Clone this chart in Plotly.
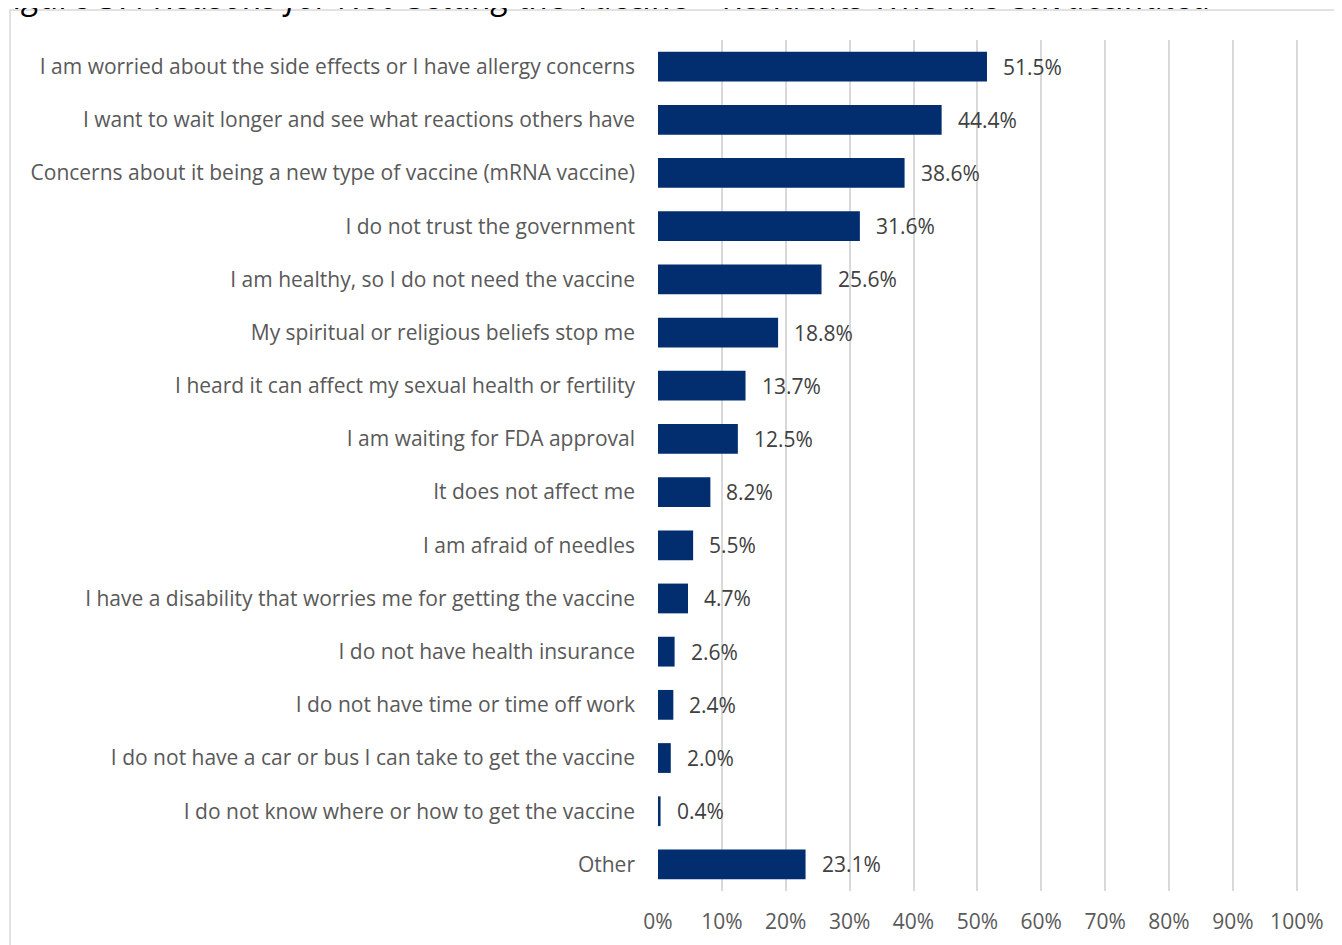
import plotly.graph_objects as go

# --- data ---
reasons = [
    "I am worried about the side effects or I have allergy concerns",
    "I want to wait longer and see what reactions others have",
    "Concerns about it being a new type of vaccine (mRNA vaccine)",
    "I do not trust the government",
    "I am healthy, so I do not need the vaccine",
    "My spiritual or religious beliefs stop me",
    "I heard it can affect my sexual health or fertility",
    "I am waiting for FDA approval",
    "It does not affect me",
    "I am afraid of needles",
    "I have a disability that worries me for getting the vaccine",
    "I do not have health insurance",
    "I do not have time or time off work",
    "I do not have a car or bus I can take to get the vaccine",
    "I do not know where or how to get the vaccine",
    "Other",
]
pct = [51.5, 44.4, 38.6, 31.6, 25.6, 18.8, 13.7, 12.5, 8.2, 5.5, 4.7, 2.6, 2.4, 2.0, 0.4, 23.1]
x_ticks = [0, 10, 20, 30, 40, 50, 60, 70, 80, 90, 100]
x_tick_labels = [f"{t}%" for t in x_ticks]

TITLE = "Figure 37: Reasons for Not Getting the Vaccine \u2013 Residents Who Are Unvaccinated"

# --- geometry (px, in figure coords; page has an 8px body margin) ---
W, H = 1334, 937
M_L, M_R, M_T, M_B = 650, 42, 32, 54
PW = W - M_L - M_R
PH = H - M_T - M_B

def xp(px):
    return (px - M_L) / PW

def yp(py):
    return (H - M_B - py) / PH

BAR = "#022d6f"
GRID = "#d9d9d9"
FONT = "Open Sans"
FS = 21

fig = go.Figure()
fig.add_trace(go.Bar(
    x=pct, y=reasons, orientation="h",
    marker=dict(color=BAR, line=dict(width=0)),
    hoverinfo="skip", showlegend=False,
))

# value labels
for r, v in zip(reasons, pct):
    fig.add_annotation(
        x=v, y=r, text=f"{v:.1f}%", showarrow=False,
        xanchor="left", yanchor="middle", xshift=14,
        font=dict(family=FONT, size=FS, color="#404040"),
    )

# title (partly cut off at the top, like the source)
fig.add_annotation(
    xref="paper", yref="paper", x=xp(-12), y=yp(13),
    text=f"<i>{TITLE}</i>", showarrow=False,
    xanchor="left", yanchor="bottom",
    font=dict(family=FONT, size=34, color="#000000"),
)

# chart-area frame
fig.add_shape(
    type="rect", xref="paper", yref="paper",
    x0=xp(2), x1=xp(W + 30), y0=yp(H + 30), y1=yp(2),
    line=dict(color=GRID, width=1.5), layer="below",
)

fig.update_layout(
    width=W, height=H,
    margin=dict(l=M_L, r=M_R, t=M_T, b=M_B, autoexpand=False),
    paper_bgcolor="white", plot_bgcolor="white",
    bargap=0.44,
    font=dict(family=FONT, color="#595959"),
    xaxis=dict(
        range=[0, 100.5], tickvals=x_ticks, ticktext=x_tick_labels,
        showgrid=True, gridcolor=GRID, gridwidth=1.5, zeroline=False,
        showline=False, ticks="", ticklabelstandoff=16,
        tickfont=dict(family=FONT, size=FS, color="#595959"),
        fixedrange=True,
    ),
    yaxis=dict(
        categoryorder="array", categoryarray=reasons,
        autorange="reversed", showgrid=False, zeroline=False,
        showline=False, ticks="", ticklabelstandoff=22,
        tickfont=dict(family=FONT, size=FS, color="#595959"),
        fixedrange=True,
    ),
)

fig.write_html("out.html")
